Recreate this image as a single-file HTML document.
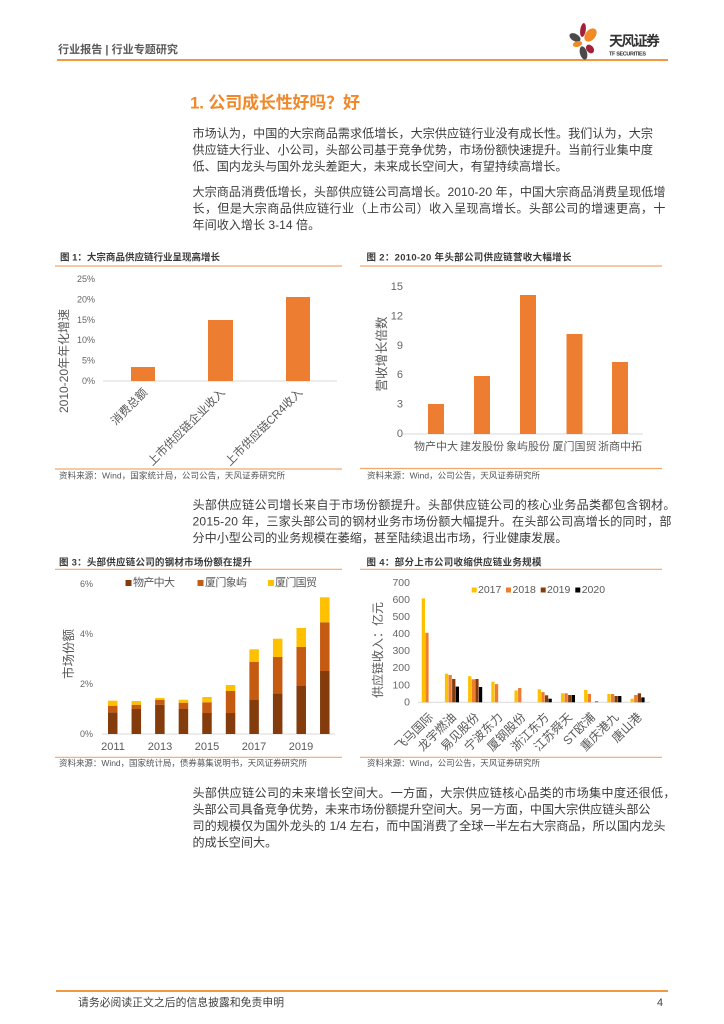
<!DOCTYPE html>
<html><head><meta charset="utf-8"><style>
html,body{margin:0;padding:0;background:#fff;}
svg{display:block;}
text{font-family:"Liberation Sans","Noto Sans CJK SC",sans-serif;}
.p{font-size:12.1px;fill:#3c3c3c;}
.tk{font-size:9px;fill:#666;}
.cap{font-size:9.5px;font-weight:bold;fill:#3a3a3a;}
.src{font-size:8.5px;fill:#555;}
</style></head><body>
<svg width="724" height="1024" viewBox="0 0 724 1024" xmlns="http://www.w3.org/2000/svg">
<rect width="724" height="1024" fill="#fff"/>
<!-- header -->
<text x="58" y="50" font-size="11" font-weight="bold" fill="#595959" dominant-baseline="central" textLength="120" lengthAdjust="spacingAndGlyphs">行业报告 | 行业专题研究</text>
<line x1="57" y1="60" x2="668" y2="60" stroke="#F08A24" stroke-width="1.8"/>
<!-- logo -->
<ellipse cx="575" cy="37.5" rx="6" ry="3.6" transform="rotate(30 575 37.5)" fill="#4a4a4a"/>
<ellipse cx="583" cy="30" rx="2.8" ry="7" transform="rotate(8 583 30)" fill="#A3203A"/>
<ellipse cx="590.5" cy="35" rx="5" ry="7.5" transform="rotate(40 590.5 35)" fill="#F08A24"/>
<ellipse cx="577.5" cy="44" rx="4.8" ry="2.8" transform="rotate(-15 577.5 44)" fill="#F08A24"/>
<ellipse cx="583.5" cy="53" rx="3.6" ry="6.8" transform="rotate(-15 583.5 53)" fill="#4a4a4a"/>
<ellipse cx="590" cy="49" rx="3.5" ry="4.8" transform="rotate(-40 590 49)" fill="#A3203A"/>
<text x="609" y="41" font-size="14" font-weight="bold" fill="#333" dominant-baseline="central" textLength="51">天风证券</text>
<text x="609" y="54.5" font-size="5.5" font-weight="bold" fill="#333" dominant-baseline="central" textLength="37">TF SECURITIES</text>

<!-- title -->
<text x="190" y="103" font-size="17" font-weight="bold" fill="#F0892B" dominant-baseline="central" textLength="170">1. 公司成长性好吗？好</text>

<!-- P1 -->
<text class="p" x="192.5" y="133.5" dominant-baseline="central" textLength="460.5" lengthAdjust="spacing">市场认为，中国的大宗商品需求低增长，大宗供应链行业没有成长性。我们认为，大宗</text>
<text class="p" x="192.5" y="150" dominant-baseline="central" textLength="460.5" lengthAdjust="spacing">供应链大行业、小公司，头部公司基于竞争优势，市场份额快速提升。当前行业集中度</text>
<text class="p" x="192.5" y="166.5" dominant-baseline="central">低、国内龙头与国外龙头差距大，未来成长空间大，有望持续高增长。</text>
<!-- P2 -->
<text class="p" x="192.5" y="192" dominant-baseline="central" textLength="473" lengthAdjust="spacing">大宗商品消费低增长，头部供应链公司高增长。2010-20 年，中国大宗商品消费呈现低增</text>
<text class="p" x="192.5" y="208.5" dominant-baseline="central" textLength="473" lengthAdjust="spacing">长，但是大宗商品供应链行业（上市公司）收入呈现高增长。头部公司的增速更高，十</text>
<text class="p" x="192.5" y="225" dominant-baseline="central">年间收入增长 3-14 倍。</text>

<!-- Chart 1 -->
<text class="cap" x="60" y="258" dominant-baseline="central" textLength="160">图 1：大宗商品供应链行业呈现高增长</text>
<line x1="55" y1="266" x2="342" y2="266" stroke="#F3A86B" stroke-width="1.2"/>
<g class="tk" text-anchor="end">
<text x="95" y="381" dominant-baseline="central">0%</text>
<text x="95" y="360.6" dominant-baseline="central">5%</text>
<text x="95" y="340.2" dominant-baseline="central">10%</text>
<text x="95" y="319.8" dominant-baseline="central">15%</text>
<text x="95" y="299.4" dominant-baseline="central">20%</text>
<text x="95" y="279" dominant-baseline="central">25%</text>
</g>
<text transform="translate(64,361) rotate(-90)" text-anchor="middle" dominant-baseline="central" font-size="12" fill="#595959">2010-20年年化增速</text>
<line x1="103" y1="381" x2="337" y2="381" stroke="#D9D9D9" stroke-width="1"/>
<rect x="131" y="367" width="24" height="14" fill="#ED7D31"/>
<rect x="208" y="320" width="25" height="61" fill="#ED7D31"/>
<rect x="286" y="297" width="24" height="84" fill="#ED7D31"/>
<g font-size="11.5" fill="#595959" text-anchor="end" dominant-baseline="central">
<text transform="translate(146,391) rotate(-45)">消费总额</text>
<text transform="translate(223.5,391) rotate(-45)">上市供应链企业收入</text>
<text transform="translate(301,391) rotate(-45)">上市供应链CR4收入</text>
</g>
<line x1="55" y1="469" x2="342" y2="469" stroke="#F3A86B" stroke-width="1.2"/>
<text class="src" x="59" y="475.5" dominant-baseline="central" textLength="226">资料来源：Wind，国家统计局，公司公告，天风证券研究所</text>

<!-- Chart 2 -->
<text class="cap" x="366.5" y="258" dominant-baseline="central" textLength="205">图 2：2010-20 年头部公司供应链营收大幅增长</text>
<line x1="360" y1="266" x2="662" y2="266" stroke="#F3A86B" stroke-width="1.2"/>
<g font-size="11" fill="#666" text-anchor="end">
<text x="403" y="434" dominant-baseline="central">0</text>
<text x="403" y="404.6" dominant-baseline="central">3</text>
<text x="403" y="375.2" dominant-baseline="central">6</text>
<text x="403" y="345.8" dominant-baseline="central">9</text>
<text x="403" y="316.4" dominant-baseline="central">12</text>
<text x="403" y="287" dominant-baseline="central">15</text>
</g>
<text transform="translate(382,354) rotate(-90)" text-anchor="middle" dominant-baseline="central" font-size="12.5" fill="#595959">营收增长倍数</text>
<line x1="403" y1="434" x2="643" y2="434" stroke="#D9D9D9" stroke-width="1"/>
<rect x="428" y="404" width="16" height="30" fill="#ED7D31"/>
<rect x="474" y="376" width="16" height="58" fill="#ED7D31"/>
<rect x="520" y="295" width="16" height="139" fill="#ED7D31"/>
<rect x="566.5" y="334" width="16" height="100" fill="#ED7D31"/>
<rect x="612" y="362" width="16" height="72" fill="#ED7D31"/>
<g font-size="11" fill="#595959" text-anchor="middle">
<text x="436" y="447" dominant-baseline="central">物产中大</text>
<text x="482" y="447" dominant-baseline="central">建发股份</text>
<text x="528" y="447" dominant-baseline="central">象屿股份</text>
<text x="574.5" y="447" dominant-baseline="central">厦门国贸</text>
<text x="620" y="447" dominant-baseline="central">浙商中拓</text>
</g>
<line x1="360" y1="468.5" x2="662" y2="468.5" stroke="#F3A86B" stroke-width="1.2"/>
<text class="src" x="367" y="475.5" dominant-baseline="central" textLength="173">资料来源：Wind，公司公告，天风证券研究所</text>

<!-- P3 -->
<text class="p" x="192.5" y="505" dominant-baseline="central" textLength="483" lengthAdjust="spacing">头部供应链公司增长来自于市场份额提升。头部供应链公司的核心业务品类都包含钢材。</text>
<text class="p" x="192.5" y="521.5" dominant-baseline="central" textLength="479" lengthAdjust="spacing">2015-20 年，三家头部公司的钢材业务市场份额大幅提升。在头部公司高增长的同时，部</text>
<text class="p" x="192.5" y="538" dominant-baseline="central">分中小型公司的业务规模在萎缩，甚至陆续退出市场，行业健康发展。</text>

<!-- Chart 3 -->
<text class="cap" x="59" y="563" dominant-baseline="central" textLength="193">图 3：头部供应链公司的钢材市场份额在提升</text>
<line x1="55" y1="569.3" x2="342" y2="569.3" stroke="#F3A86B" stroke-width="1.2"/>
<g class="tk" text-anchor="end">
<text x="93" y="734" dominant-baseline="central">0%</text>
<text x="93" y="684" dominant-baseline="central">2%</text>
<text x="93" y="634" dominant-baseline="central">4%</text>
<text x="93" y="584" dominant-baseline="central">6%</text>
</g>
<text transform="translate(69,654) rotate(-90)" text-anchor="middle" dominant-baseline="central" font-size="12.5" fill="#595959">市场份额</text>
<rect x="125.5" y="580" width="6" height="6" fill="#843C0C"/>
<text x="133" y="583" font-size="11" fill="#595959" dominant-baseline="central" textLength="42">物产中大</text>
<rect x="197.5" y="580" width="6" height="6" fill="#C55A11"/>
<text x="205" y="583" font-size="11" fill="#595959" dominant-baseline="central" textLength="42">厦门象屿</text>
<rect x="268" y="580" width="6" height="6" fill="#FFC000"/>
<text x="275" y="583" font-size="11" fill="#595959" dominant-baseline="central" textLength="42">厦门国贸</text>
<line x1="102" y1="734" x2="335" y2="734" stroke="#D9D9D9" stroke-width="1"/>
<g>
<rect x="108" y="712.3" width="9.5" height="21.7" fill="#843C0C"/><rect x="108" y="705.7" width="9.5" height="6.6" fill="#C55A11"/><rect x="108" y="700.7" width="9.5" height="5" fill="#FFC000"/>
<rect x="131.56" y="709" width="9.5" height="25" fill="#843C0C"/><rect x="131.56" y="704.7" width="9.5" height="4.3" fill="#C55A11"/><rect x="131.56" y="701" width="9.5" height="3.7" fill="#FFC000"/>
<rect x="155.12" y="704.7" width="9.5" height="29.3" fill="#843C0C"/><rect x="155.12" y="700" width="9.5" height="4.7" fill="#C55A11"/><rect x="155.12" y="698" width="9.5" height="2" fill="#FFC000"/>
<rect x="178.68" y="709" width="9.5" height="25" fill="#843C0C"/><rect x="178.68" y="702.7" width="9.5" height="6.3" fill="#C55A11"/><rect x="178.68" y="699.7" width="9.5" height="3" fill="#FFC000"/>
<rect x="202.24" y="713" width="9.5" height="21" fill="#843C0C"/><rect x="202.24" y="702.3" width="9.5" height="10.7" fill="#C55A11"/><rect x="202.24" y="697" width="9.5" height="5.3" fill="#FFC000"/>
<rect x="225.8" y="713" width="9.5" height="21" fill="#843C0C"/><rect x="225.8" y="691" width="9.5" height="22" fill="#C55A11"/><rect x="225.8" y="685" width="9.5" height="6" fill="#FFC000"/>
<rect x="249.36" y="700" width="9.5" height="34" fill="#843C0C"/><rect x="249.36" y="662" width="9.5" height="38" fill="#C55A11"/><rect x="249.36" y="649.3" width="9.5" height="12.7" fill="#FFC000"/>
<rect x="272.92" y="693.3" width="9.5" height="40.7" fill="#843C0C"/><rect x="272.92" y="657" width="9.5" height="36.3" fill="#C55A11"/><rect x="272.92" y="638.7" width="9.5" height="18.3" fill="#FFC000"/>
<rect x="296.48" y="686" width="9.5" height="48" fill="#843C0C"/><rect x="296.48" y="647" width="9.5" height="39" fill="#C55A11"/><rect x="296.48" y="628" width="9.5" height="19" fill="#FFC000"/>
<rect x="320.04" y="671" width="9.5" height="63" fill="#843C0C"/><rect x="320.04" y="622.3" width="9.5" height="48.7" fill="#C55A11"/><rect x="320.04" y="597.3" width="9.5" height="25" fill="#FFC000"/>
</g>
<g font-size="11" fill="#595959" text-anchor="middle">
<text x="113" y="747" dominant-baseline="central">2011</text>
<text x="160" y="747" dominant-baseline="central">2013</text>
<text x="207" y="747" dominant-baseline="central">2015</text>
<text x="254" y="747" dominant-baseline="central">2017</text>
<text x="301" y="747" dominant-baseline="central">2019</text>
</g>
<line x1="55" y1="757.3" x2="342" y2="757.3" stroke="#F3A86B" stroke-width="1.2"/>
<text class="src" x="59" y="763" dominant-baseline="central" textLength="248">资料来源：Wind，国家统计局，债券募集说明书，天风证券研究所</text>

<!-- Chart 4 -->
<text class="cap" x="366.5" y="563" dominant-baseline="central" textLength="175">图 4：部分上市公司收缩供应链业务规模</text>
<line x1="360" y1="569.3" x2="662" y2="569.3" stroke="#F3A86B" stroke-width="1.2"/>
<g font-size="10.5" fill="#666" text-anchor="end">
<text x="410" y="702.3" dominant-baseline="central">0</text>
<text x="410" y="685.3" dominant-baseline="central">100</text>
<text x="410" y="668.2" dominant-baseline="central">200</text>
<text x="410" y="651.2" dominant-baseline="central">300</text>
<text x="410" y="634.1" dominant-baseline="central">400</text>
<text x="410" y="617.1" dominant-baseline="central">500</text>
<text x="410" y="600.1" dominant-baseline="central">600</text>
<text x="410" y="583" dominant-baseline="central">700</text>
</g>
<text transform="translate(378,650) rotate(-90)" text-anchor="middle" dominant-baseline="central" font-size="12" fill="#595959">供应链收入：亿元</text>
<rect x="471.7" y="587.5" width="5" height="5" fill="#FFC000"/>
<text x="478" y="590" font-size="10.5" fill="#595959" dominant-baseline="central">2017</text>
<rect x="506" y="587.5" width="5" height="5" fill="#ED7D31"/>
<text x="512.5" y="590" font-size="10.5" fill="#595959" dominant-baseline="central">2018</text>
<rect x="540.7" y="587.5" width="5" height="5" fill="#843C0C"/>
<text x="547" y="590" font-size="10.5" fill="#595959" dominant-baseline="central">2019</text>
<rect x="575.3" y="587.5" width="5" height="5" fill="#000"/>
<text x="581.7" y="590" font-size="10.5" fill="#595959" dominant-baseline="central">2020</text>
<line x1="418" y1="702.3" x2="650" y2="702.3" stroke="#D9D9D9" stroke-width="1"/>
<g>
<rect x="421.7" y="598.4" width="3.3" height="103.9" fill="#FFC000"/><rect x="425.3" y="632.8" width="3.3" height="69.5" fill="#ED7D31"/>
<rect x="444.9" y="673.7" width="3.3" height="28.6" fill="#FFC000"/><rect x="448.5" y="675" width="3.3" height="27.3" fill="#ED7D31"/><rect x="452.1" y="679" width="3.3" height="23.3" fill="#843C0C"/><rect x="455.7" y="686.6" width="3.3" height="15.7" fill="#000"/>
<rect x="468.1" y="676.2" width="3.3" height="26.1" fill="#FFC000"/><rect x="471.7" y="679.3" width="3.3" height="23" fill="#ED7D31"/><rect x="475.3" y="679" width="3.3" height="23.3" fill="#843C0C"/><rect x="478.9" y="687" width="3.3" height="15.3" fill="#000"/>
<rect x="491.3" y="681.7" width="3.3" height="20.6" fill="#FFC000"/><rect x="494.9" y="684.1" width="3.3" height="18.2" fill="#ED7D31"/>
<rect x="514.5" y="690.4" width="3.3" height="11.9" fill="#FFC000"/><rect x="518.1" y="688" width="3.3" height="14.3" fill="#ED7D31"/>
<rect x="537.7" y="689.3" width="3.3" height="13" fill="#FFC000"/><rect x="541.3" y="692.1" width="3.3" height="10.2" fill="#ED7D31"/><rect x="544.9" y="695.3" width="3.3" height="7" fill="#843C0C"/><rect x="548.5" y="698.7" width="3.3" height="3.6" fill="#000"/>
<rect x="560.9" y="693.3" width="3.3" height="9" fill="#FFC000"/><rect x="564.5" y="693.3" width="3.3" height="9" fill="#ED7D31"/><rect x="568.1" y="695" width="3.3" height="7.3" fill="#843C0C"/><rect x="571.7" y="695" width="3.3" height="7.3" fill="#000"/>
<rect x="584.1" y="690" width="3.3" height="12.3" fill="#FFC000"/><rect x="587.7" y="694" width="3.3" height="8.3" fill="#ED7D31"/><rect x="594.9" y="701.2" width="3.3" height="1.1" fill="#777"/>
<rect x="607.3" y="694" width="3.3" height="8.3" fill="#FFC000"/><rect x="610.9" y="694" width="3.3" height="8.3" fill="#ED7D31"/><rect x="614.5" y="696" width="3.3" height="6.3" fill="#843C0C"/><rect x="618.1" y="696" width="3.3" height="6.3" fill="#000"/>
<rect x="630.5" y="698.7" width="3.3" height="3.6" fill="#FFC000"/><rect x="634.1" y="695" width="3.3" height="7.3" fill="#ED7D31"/><rect x="637.7" y="693.3" width="3.3" height="9" fill="#843C0C"/><rect x="641.3" y="697.4" width="3.3" height="4.9" fill="#000"/>
</g>
<g font-size="12" fill="#595959" text-anchor="end" dominant-baseline="central">
<text transform="translate(431,715) rotate(-45)">飞马国际</text>
<text transform="translate(454,715) rotate(-45)">龙宇燃油</text>
<text transform="translate(477,715) rotate(-45)">易见股份</text>
<text transform="translate(500.5,715) rotate(-45)">宁波东力</text>
<text transform="translate(523.5,715) rotate(-45)">厦钢股份</text>
<text transform="translate(547,715) rotate(-45)">浙江东方</text>
<text transform="translate(570,715) rotate(-45)">江苏舜天</text>
<text transform="translate(593,715) rotate(-45)">ST欧浦</text>
<text transform="translate(616.5,715) rotate(-45)">重庆港九</text>
<text transform="translate(639.5,715) rotate(-45)">唐山港</text>
</g>
<line x1="360" y1="757.3" x2="662" y2="757.3" stroke="#F3A86B" stroke-width="1.2"/>
<text class="src" x="367" y="763" dominant-baseline="central" textLength="173">资料来源：Wind，公司公告，天风证券研究所</text>

<!-- P4 -->
<text class="p" x="192.5" y="793" dominant-baseline="central" textLength="483" lengthAdjust="spacing">头部供应链公司的未来增长空间大。一方面，大宗供应链核心品类的市场集中度还很低，</text>
<text class="p" x="192.5" y="809.5" dominant-baseline="central" textLength="458" lengthAdjust="spacing">头部公司具备竞争优势，未来市场份额提升空间大。另一方面，中国大宗供应链头部公</text>
<text class="p" x="192.5" y="826" dominant-baseline="central" textLength="473" lengthAdjust="spacing">司的规模仅为国外龙头的 1/4 左右，而中国消费了全球一半左右大宗商品，所以国内龙头</text>
<text class="p" x="192.5" y="842.5" dominant-baseline="central">的成长空间大。</text>

<!-- footer -->
<line x1="56" y1="991" x2="668" y2="991" stroke="#F08A24" stroke-width="1.8"/>
<text x="78" y="1003" font-size="10.8" fill="#404040" dominant-baseline="central" textLength="206">请务必阅读正文之后的信息披露和免责申明</text>
<text x="660" y="1003" font-size="10.8" fill="#404040" dominant-baseline="central" text-anchor="middle">4</text>
</svg>
</body></html>
